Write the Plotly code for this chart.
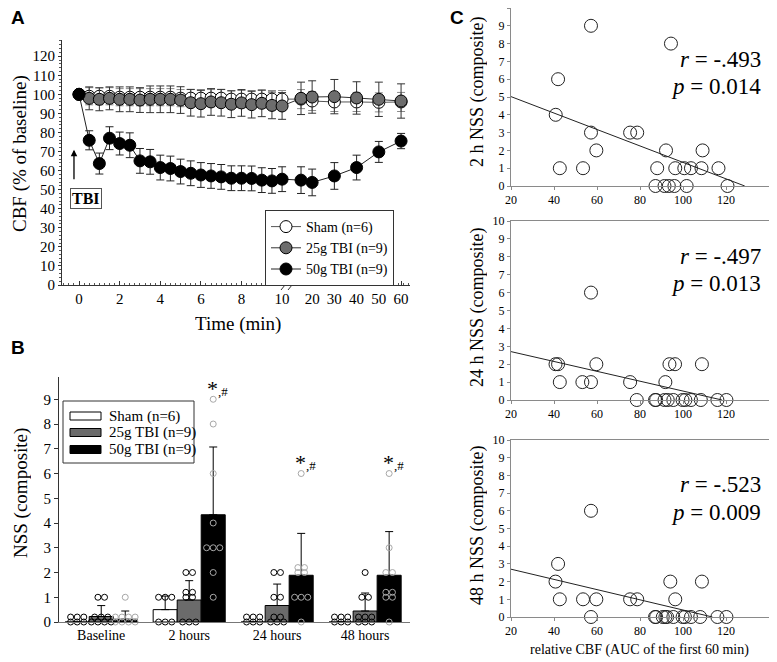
import numpy as np
import plotly.graph_objects as go
from collections import Counter

# ---------------- Panel A data ----------------
times = [0, 0.5, 1, 1.5, 2, 2.5, 3, 3.5, 4, 4.5, 5, 5.5, 6, 6.5, 7, 7.5, 8, 8.5, 9, 9.5, 10,
         15, 20, 30, 40, 50, 60]
sham_cbf = [100, 99, 99, 99, 98.5, 98.5, 98.5, 98.5, 98.5, 98.5, 98, 98, 98, 98, 98, 97.5, 97.5,
            97.5, 97.5, 97.5, 97.5, 97.5, 96.5, 96, 96, 95.8, 96]
sham_err = [0] + [4.5] * 20 + [5, 5, 5, 5, 5, 5]
tbi25_cbf = [100, 97.9, 97.4, 97.9, 97.4, 97.4, 97.0, 97.4, 97.4, 97.4, 97.0, 95.6, 95.1, 96.0,
             95.6, 94.8, 95.5, 94.6, 95.3, 94.2, 93.9, 97.9, 98.6, 98.8, 98.1, 97.4, 96.5]
tbi25_err = [0, 6, 6, 6, 6.5, 6.5, 6.5, 7, 7, 7, 7, 7, 7, 7, 7, 7, 7, 7, 7, 7, 7,
             8.5, 8.5, 9, 8.5, 9, 9]
tbi50_cbf = [100, 75.9, 63.7, 77.0, 74.2, 73.3, 65.1, 64.6, 61.6, 61.1, 59.5, 58.6, 57.7, 57.2,
             56.7, 56.0, 56.0, 55.9, 55.0, 54.6, 55.5, 55.0, 53.8, 57.2, 61.6, 69.8, 75.5]
tbi50_err = [0, 5, 5.5, 6, 6, 6.5, 6.5, 6.5, 6.5, 6.5, 6.5, 6.5, 6.5, 6.5, 6.5, 6.5, 6.5, 6.5,
             6.5, 6.5, 6.5, 7, 7, 7, 6.5, 5.5, 4]
time_ticks = [0, 2, 4, 6, 8, 10, 20, 30, 40, 50, 60]
cbf_ticks = list(range(0, 130, 10))

# ---------------- Panel B data (individual NSS scores) ----------------
timepoints = ["Baseline", "2 hours", "24 hours", "48 hours"]
nss_sham = [[0, 0, 0, 0, 0, 0], [1, 1, 1, 0, 0, 0], [0, 0, 0, 0, 0, 0], [0, 0, 0, 0, 0, 0]]
nss_25 = [[1, 1, 0, 0, 0, 0, 0, 0, 0], [2, 2, 1, 1, 1, 1, 0, 0, 0],
          [2, 2, 1, 1, 0, 0, 0, 0, 0], [2, 1, 1, 0, 0, 0, 0, 0, 0]]
nss_50 = [[1, 0, 0, 0, 0, 0, 0, 0, 0], [9, 8, 6, 4, 3, 3, 3, 2, 1],
          [6, 2, 2, 2, 2, 1, 1, 1, 0], [6, 3, 2, 2, 1, 1, 1, 1, 0]]
group_names = ["Sham (n=6)", "25g TBI (n=9)", "50g TBI (n=9)"]
sig_marks = ["", "*,#", "*,#", "*,#"]

# ---------------- Panel C data ----------------
c2h_cbf = [57.2, 94.4, 41.9, 40.8, 57.2, 75.4, 78.7, 59.7, 92.1, 109.1, 42.7, 53.5, 88, 96.4,
           100.6, 103.7, 108.6, 116.5, 87.2, 91.4, 93.4, 96, 101.7, 120.7]
c2h_nss = [9, 8, 6, 4, 3, 3, 3, 2, 2, 2, 1, 1, 1, 1, 1, 1, 1, 1, 0, 0, 0, 0, 0, 0]
c24h_cbf = [57.2, 40.7, 41.9, 59.7, 93.7, 96.3, 108.8, 42.7, 53.2, 57.2, 75.4, 91.8,
            78.5, 87, 87.5, 91.4, 92.9, 95.5, 99.8, 101.1, 103.7, 108.3, 116, 120.2]
c24h_nss = [6, 2, 2, 2, 2, 2, 2, 1, 1, 1, 1, 1, 0, 0, 0, 0, 0, 0, 0, 0, 0, 0, 0, 0]
c48h_cbf = [57.2, 41.9, 40.7, 94.1, 108.8, 42.7, 53.5, 59.7, 75.4, 78.7, 96.4,
            57.2, 87, 87.5, 90.6, 91.8, 92.6, 95.5, 99.8, 100.9, 103.7, 108, 116, 120.2]
c48h_nss = [6, 3, 2, 2, 2, 1, 1, 1, 1, 1, 1, 0, 0, 0, 0, 0, 0, 0, 0, 0, 0, 0, 0, 0]
c_ylabels = ["2 h NSS (composite)", "24 h NSS (composite)", "48 h NSS (composite)"]
c_r = ["-.493", "-.497", "-.523"]
c_p = ["0.014", "0.013", "0.009"]

# ---------------- helpers ----------------
W, H = 777, 662
OFF = 8  # the page body adds an 8 px margin around the figure
FW, FH = W - OFF, H - OFF
SERIF = "Liberation Serif, Times New Roman, serif"
SANS = "Liberation Sans, Arial, sans-serif"


def px(x):
    return (x - OFF) / FW


def py(y):
    return 1 - (y - OFF) / FH


def clamp(v):
    return min(1.0, max(0.0, v))


def tpos(t):
    # broken time axis: linear 0-10 min, compressed 15-60 min
    t = np.asarray(t, dtype=float)
    return np.where(t <= 10, t, 11.48 + (t - 20) * 0.1095)


fig = go.Figure()

# ---------------- Panel A ----------------
xa = tpos(times)
seriesA = [
    (group_names[0], sham_cbf, sham_err, "white", "#555555", "#8a8a8a"),
    (group_names[1], tbi25_cbf, tbi25_err, "#6d6d6d", "#333333", "#333333"),
    (group_names[2], tbi50_cbf, tbi50_err, "black", "#222222", "#222222"),
]
for name, vals, err, fill, linec, errc in seriesA:
    fig.add_trace(go.Scatter(
        x=xa, y=vals, mode="lines+markers", name=name,
        line=dict(color=linec, width=1),
        marker=dict(size=12, color=fill, line=dict(color="black", width=1)),
        error_y=dict(type="data", array=err, color=errc, thickness=1, width=4),
        xaxis="x", yaxis="y", showlegend=True))

# ---------------- Panel B ----------------
BW = 0.273
offs = [-BW, 0, BW]
bar_fill = ["white", "#6b6b6b", "black"]
dot_col = ["black", "black", "#a8a8a8"]
groupsB = [nss_sham, nss_25, nss_50]
DX, DY = 0.075, 0.2


def dot_positions(values, center):
    xs, ys = [], []
    for v, n in sorted(Counter(values).items()):
        ncols = n if n <= 3 else (2 if n == 4 else (3 if n <= 6 else 4))
        for i in range(n):
            row, col = divmod(i, ncols)
            nrow = min(ncols, n - row * ncols)
            xs.append(center + (col - (nrow - 1) / 2) * DX)
            ys.append(v + row * DY)
    return xs, ys


for g, data in enumerate(groupsB):
    means = [float(np.mean(d)) for d in data]
    sds = [float(np.std(d, ddof=1)) for d in data]
    xs = [i + offs[g] for i in range(len(timepoints))]
    fig.add_trace(go.Bar(
        x=xs, y=means, width=BW, marker=dict(color=bar_fill[g], line=dict(color="black", width=1)),
        error_y=dict(type="data", array=sds, arrayminus=[0] * len(sds), symmetric=False,
                     color="black", thickness=1, width=4),
        xaxis="x2", yaxis="y2", showlegend=False))
for g, data in enumerate(groupsB):
    dx, dy = [], []
    for i, d in enumerate(data):
        a, b = dot_positions(d, i + offs[g])
        dx += a
        dy += b
    fig.add_trace(go.Scatter(
        x=dx, y=dy, mode="markers",
        marker=dict(symbol="circle-open", size=6, color=dot_col[g], line=dict(width=1)),
        xaxis="x2", yaxis="y2", showlegend=False, cliponaxis=False))

annotations = []
for i, m in enumerate(sig_marks):
    if m:
        top = max(nss_50[i])
        annotations.append(dict(
            x=i + offs[2], y=top + 0.45, xref="x2", yref="y2", showarrow=False, xshift=4,
            yanchor="middle",
            text="<span style='font-size:22px'>*</span><span style='font-size:13px'>,#</span>",
            font=dict(family=SERIF, color="black")))

# ---------------- Panel C ----------------
c_sets = [(c2h_cbf, c2h_nss), (c24h_cbf, c24h_nss), (c48h_cbf, c48h_nss)]
c_rpos = [(7.1, 5.6), (8.0, 6.5), (7.5, 5.9)]
for k, (xv, yv) in enumerate(c_sets):
    ax = f"x{k + 3}"
    ay = f"y{k + 3}"
    fig.add_trace(go.Scatter(
        x=xv, y=yv, mode="markers",
        marker=dict(symbol="circle-open", size=13, color="#222222", line=dict(width=1)),
        xaxis=ax, yaxis=ay, showlegend=False, cliponaxis=False))
    slope, intercept = np.polyfit(xv, yv, 1)
    x0 = 20.0
    x1 = min(-intercept / slope, 140.0)
    fig.add_trace(go.Scatter(
        x=[x0, x1], y=[slope * x0 + intercept, slope * x1 + intercept], mode="lines",
        line=dict(color="#222222", width=1), xaxis=ax, yaxis=ay, showlegend=False))
    annotations.append(dict(x=137, y=c_rpos[k][0], xref=ax, yref=ay, xanchor="right",
                            yanchor="middle", showarrow=False, text=f"<i>r</i> = {c_r[k]}",
                            font=dict(family=SERIF, size=23, color="black")))
    annotations.append(dict(x=137, y=c_rpos[k][1], xref=ax, yref=ay, xanchor="right",
                            yanchor="middle", showarrow=False, text=f"<i>p</i> = {c_p[k]}",
                            font=dict(family=SERIF, size=23, color="black")))

# ---------------- Layout ----------------
tickfontA = dict(family=SERIF, size=15, color="black")
layout = dict(
    width=FW, height=FH, margin=dict(l=0, r=0, t=0, b=0, autoexpand=False),
    paper_bgcolor="white", plot_bgcolor="white",
    font=dict(family=SERIF, color="black"),
    showlegend=True,
    legend=dict(x=px(265), y=py(210), xanchor="left", yanchor="top",
                bordercolor="#333333", borderwidth=1, bgcolor="white",
                font=dict(family=SERIF, size=14, color="black"),
                itemwidth=30, tracegroupgap=0),
    # Panel A axes
    xaxis=dict(domain=[px(62), px(410)], anchor="y", range=[-0.84, 16.3], automargin=False,
               tickvals=list(tpos(time_ticks)), ticktext=[str(t) for t in time_ticks],
               showline=True, linecolor="#333333", linewidth=1, ticks="inside", ticklen=4,
               tickcolor="#333333", minor=dict(dtick=0.25, ticks="inside", ticklen=2,
                                               tickcolor="#555555"),
               showgrid=False, zeroline=False, tickfont=tickfontA),
    yaxis=dict(domain=[py(285), py(40)], anchor="x", range=[0, 128.5], automargin=False,
               tickvals=cbf_ticks, showline=True, linecolor="#333333", linewidth=1,
               ticks="outside", ticklen=3, tickcolor="#333333",
               minor=dict(dtick=2, ticks="outside", ticklen=2, tickcolor="#555555"),
               showgrid=False, zeroline=False, tickfont=tickfontA),
    # Panel B axes
    xaxis2=dict(domain=[px(59), px(410)], anchor="y2", range=[-0.48, 3.51], automargin=False,
                tickvals=list(range(len(timepoints))), ticktext=timepoints,
                showline=True, linecolor="#777777", linewidth=1, ticks="", showgrid=False,
                zeroline=False, tickfont=dict(family=SERIF, size=14, color="black")),
    yaxis2=dict(domain=[py(622), py(377)], anchor="x2", range=[0, 9.9], automargin=False,
                tickvals=list(range(10)), showline=True, linecolor="#333333", linewidth=1,
                ticks="outside", ticklen=4, tickcolor="#333333", showgrid=False,
                zeroline=False, tickfont=tickfontA),
    annotations=annotations,
)
c_dom = [(186, 8), (400, 221), (617, 440)]
for k in range(3):
    n = k + 3
    layout[f"xaxis{n}"] = dict(
        domain=[px(511), clamp(px(769))], anchor=f"y{n}", range=[20, 140], dtick=20,
        automargin=False,
        showline=True, mirror=True, linecolor="#8a8a8a", linewidth=1, ticks="outside",
        ticklen=3, tickcolor="#8a8a8a", showgrid=False, zeroline=False,
        tickfont=dict(family=SERIF, size=12, color="black"))
    layout[f"yaxis{n}"] = dict(
        domain=[clamp(py(c_dom[k][0])), clamp(py(c_dom[k][1]))], anchor=f"x{n}",
        range=[0, 10], dtick=1, automargin=False,
        showline=True, mirror=True, linecolor="#8a8a8a", linewidth=1, ticks="outside",
        ticklen=3, tickcolor="#8a8a8a", showgrid=False, zeroline=False,
        tickfont=dict(family=SERIF, size=12, color="black"))
fig.update_layout(**layout)

# axis titles (placed as text at the reference positions)
titles = [
    ("CBF (% of baseline)", 19, 154, 19, -90),
    ("Time (min)", 238, 323, 19, 0),
    ("NSS (composite)", 20, 493, 19, -90),
    (c_ylabels[0], 477, 92, 18, -90),
    (c_ylabels[1], 477, 307, 18, -90),
    (c_ylabels[2], 477, 525, 18, -90),
    ("relative CBF (AUC of the first 60 min)", 639, 650, 14, 0),
]
for txt, x, y, s, ang in titles:
    fig.add_annotation(x=px(x), y=py(y), xref="paper", yref="paper", xanchor="center",
                       yanchor="middle", showarrow=False, text=txt, textangle=ang,
                       height=s + 2, font=dict(family=SERIF, size=s, color="black"))

# Panel labels
for lab, x, y in [("A", 9, 18), ("B", 9, 348), ("C", 448, 18)]:
    fig.add_annotation(x=px(x), y=py(y), xref="paper", yref="paper", xanchor="left",
                       yanchor="middle", showarrow=False, text=f"<b>{lab}</b>", height=19,
                       font=dict(family=SANS, size=19, color="black"))

# TBI marker
fig.add_annotation(x=-0.25, y=71, xref="x", yref="y", ax=0, ay=38, text=" ",
                   showarrow=True, arrowhead=2, arrowsize=1, arrowwidth=1.3, arrowcolor="black")
fig.add_annotation(x=0.35, y=45.5, xref="x", yref="y", showarrow=False, text="<b>TBI</b>",
                   yanchor="middle",
                   bordercolor="#555555", borderwidth=1, borderpad=1, bgcolor="white",
                   font=dict(family=SERIF, size=16, color="black"))

# axis break marks
for xx in (281, 288):
    fig.add_shape(type="line", xref="paper", yref="paper", x0=px(xx), y0=py(290),
                  x1=px(xx + 8), y1=py(280), line=dict(color="#333333", width=1))

# Panel B manual legend
fig.add_shape(type="rect", xref="paper", yref="paper", x0=px(63), x1=px(194), y0=py(401),
              y1=py(463), line=dict(color="#333333", width=1), fillcolor="white")
for g, yc in enumerate([416, 432.5, 449.5]):
    fig.add_shape(type="rect", xref="paper", yref="paper", x0=px(70), x1=px(101),
                  y0=py(yc - 4), y1=py(yc + 4), fillcolor=bar_fill[g],
                  line=dict(color="black", width=1))
    fig.add_annotation(x=px(107), y=py(yc), xref="paper", yref="paper", xanchor="left",
                       yanchor="middle", showarrow=False, text=group_names[g],
                       font=dict(family=SERIF, size=15, color="black"))

fig.write_html("out.html")
